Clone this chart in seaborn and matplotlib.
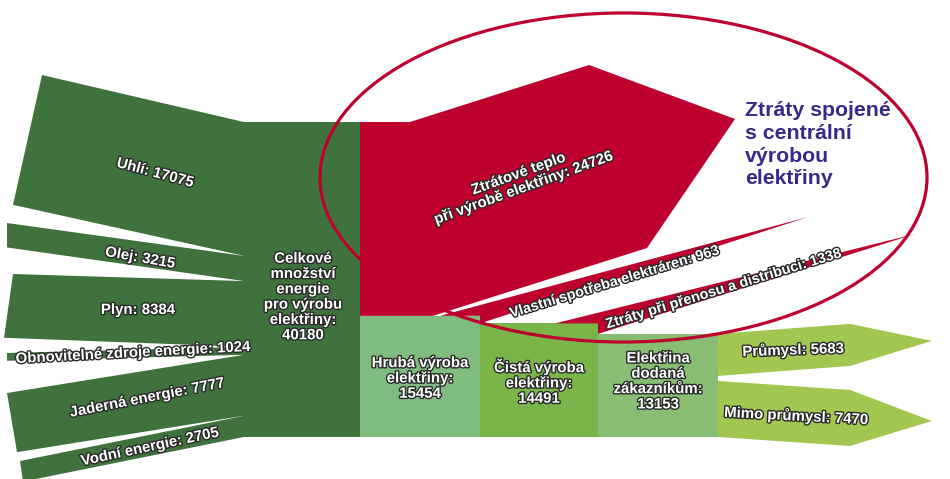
import matplotlib
matplotlib.use("Agg")
import matplotlib.pyplot as plt
import matplotlib.patheffects as pe
from matplotlib.patches import Polygon, Rectangle, Ellipse
import numpy as np
import seaborn as sns

# ---------------- data ----------------
source_labels = ["Uhlí", "Olej", "Plyn", "Obnovitelné zdroje energie", "Jaderná energie", "Vodní energie"]
source_values = [17075, 3215, 8384, 1024, 7777, 2705]
total_value = 40180
total_label = "Celkové\nmnožství\nenergie\npro výrobu\nelektřiny:"

heat_loss_value = 24726
heat_loss_label = "Ztrátové teplo\npři výrobě elektřiny"
own_use_value = 963
own_use_label = "Vlastní spotřeba elektráren"
grid_loss_value = 1338
grid_loss_label = "Ztráty při přenosu a distribuci"

stage_labels = ["Hrubá výroba\nelektřiny:", "Čistá výroba\nelektřiny:", "Elektřina\ndodaná\nzákazníkům:"]
stage_values = [15454, 14491, 13153]

output_labels = ["Průmysl", "Mimo průmysl"]
output_values = [5683, 7470]

callout_text = "Ztráty spojené\ns centrální\nvýrobou\nelektřiny"

# ---------------- style ----------------
sns.set_theme(style="white")
plt.rcParams["font.family"] = ["Liberation Sans", "DejaVu Sans"]

C_DARK = "#40723e"
C_RED = "#bd002e"
C_STAGE = ["#80bb80", "#7ab54a", "#88be74"]
C_OUT = "#a2c750"
C_CALL = "#35298a"

fig = plt.figure(figsize=(9.5, 4.79), dpi=100)
ax = fig.add_axes([0, 0, 1, 1])
ax.set_xlim(0, 950)
ax.set_ylim(479, 0)
ax.axis("off")

outline = [pe.withStroke(linewidth=2.0, foreground="#2a2a2a")]


def label(x, y, s, rot=0, size=10.8, ha="center", ls=1.08):
    ax.text(x, y, s, color="white", fontsize=size, fontweight="bold", ha=ha, va="center",
            rotation=rot, rotation_mode="anchor", path_effects=outline, linespacing=ls, zorder=8)


# layout (pixel space)
top = 122
box_h = 315
k = box_h / total_value
box_x0, box_x1 = 243, 360

# ---------------- sources ----------------
left_top_y = [75, 223, 274, 353, 393, 461]
left_x_top = [42, 7, 13, 7, 7, 20]
left_x_bot = [13, 7, 4, 7, 17, 23]
src_lab_pos = [(155, 173, -15), (140, 258, -10), (138, 310, 0), (133, 353, 3), (147, 398, 11), (150, 447, 12)]

y = top
for i, v in enumerate(source_values):
    w = v * k
    lt = left_top_y[i]
    poly = Polygon([(left_x_top[i], lt), (box_x0 + 1, y), (box_x0 + 1, y + w),
                    (left_x_bot[i], lt + w * 0.97)], closed=True, fc=C_DARK, ec="none", zorder=2)
    ax.add_patch(poly)
    lx, ly, lr = src_lab_pos[i]
    label(lx, ly, f"{source_labels[i]}: {v}", rot=lr)
    y += w

ax.add_patch(Rectangle((box_x0, top), box_x1 - box_x0, total_value * k, fc=C_DARK, ec="none", zorder=2))
label(303, 297, f"{total_label}\n{total_value}", ls=1.12)

# ---------------- heat loss (drawn above the callout ring) ----------------
heat_bot = top + heat_loss_value * k
heat_poly = Polygon([(box_x1, top), (410, top), (589, 65), (735, 119), (647, 248),
                     (433, heat_bot), (box_x1, heat_bot)], closed=True, fc=C_RED, ec="none", zorder=6)
ax.add_patch(heat_poly)
label(521, 181, f"{heat_loss_label}: {heat_loss_value}", rot=20)

# ---------------- stages ----------------
stage_x = [360, 480, 598, 718]
bottom = top + total_value * k
stage_tops = [bottom - v * k for v in stage_values]
for i, v in enumerate(stage_values):
    ax.add_patch(Rectangle((stage_x[i], stage_tops[i]), stage_x[i + 1] - stage_x[i], v * k,
                           fc=C_STAGE[i], ec="none", zorder=2))
    cx = (stage_x[i] + stage_x[i + 1]) / 2
    cy = (stage_tops[i] + bottom) / 2 + (0 if i < 2 else -6)
    label(cx, cy + 2, f"{stage_labels[i]}\n{v}", ls=1.12)

# ---------------- thin loss bands ----------------
y0 = stage_tops[0]
ax.add_patch(Polygon([(440, y0), (stage_x[1], y0), (stage_x[1], y0 + own_use_value * k), (808, 217)],
                     closed=True, fc=C_RED, ec="none", zorder=2))
label(614, 282, f"{own_use_label}: {own_use_value}", rot=17, size=10.4)

y1 = stage_tops[1]
ax.add_patch(Polygon([(555, y1), (stage_x[2], y1), (stage_x[2], y1 + grid_loss_value * k), (915, 234)],
                     closed=True, fc=C_RED, ec="none", zorder=2))
label(723, 289, f"{grid_loss_label}: {grid_loss_value}", rot=17, size=10.4)

# ---------------- outputs ----------------
out_dy = [-10, 9]
tip_dy = [-4, 3]
out_lab = [(793, 350, 2), (796, 416, -3)]
gap = 2.5
yo = stage_tops[2]
for i, v in enumerate(output_values):
    w = v * k
    a = yo + (gap if i > 0 else 0)
    b = yo + w - (gap if i == 0 else 0)
    x0, xb, xt = 718, 850, 932
    ax.add_patch(Polygon([(x0, a), (xb, a + out_dy[i]), (xt, (a + b) / 2 + out_dy[i] + tip_dy[i]),
                          (xb, b + out_dy[i]), (x0, b)], closed=True, fc=C_OUT, ec="none", zorder=2))
    lx, ly, lr = out_lab[i]
    label(lx, ly, f"{output_labels[i]}: {v}", rot=lr)
    yo += w

# ---------------- callout ----------------
ax.add_patch(Ellipse((623.5, 177.5), 607, 329, angle=0, fill=False, ec=C_RED, lw=2.3, zorder=5))
ax.text(745, 101, callout_text, color=C_CALL, fontsize=15.3, fontweight="bold", ha="left", va="top",
        linespacing=1.25, zorder=8)

fig.savefig("out.png", dpi=100)
